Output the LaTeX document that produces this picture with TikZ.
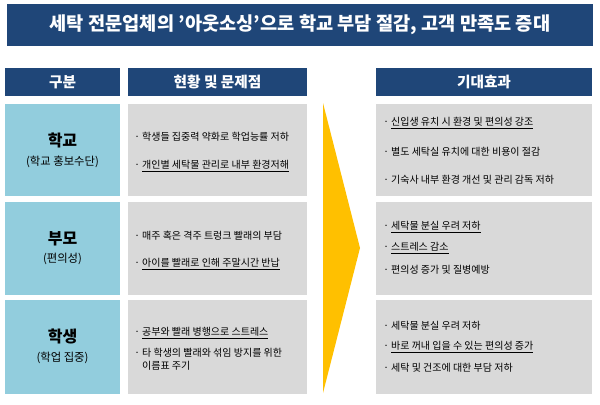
\documentclass[tikz,border=0pt]{standalone}
\usepackage{fontspec}
\setmainfont{Noto Sans CJK KR}
\definecolor{navy}{HTML}{1F4678}
\definecolor{sky}{HTML}{92CDDD}
\definecolor{lgray}{HTML}{D9D9D9}
\definecolor{gold}{HTML}{FFC000}
\tikzset{
 hdr/.style={fill=navy,text=white,font=\bfseries\fontsize{11}{13}\selectfont},
 lab/.style={fill=sky,align=center,font=\fontsize{8.5}{11}\selectfont},
 itm/.style={anchor=west,font=\fontsize{7.5}{10}\selectfont,inner sep=0pt},
}
\begin{document}
\begin{tikzpicture}[x=0.75pt,y=-0.75pt]
\useasboundingbox (0,0) rectangle (600,404);
\fill[white] (0,0) rectangle (600,404);
% title
\fill[navy] (7,4) rectangle (593,46);
\node[text=white,font=\bfseries\fontsize{14}{16}\selectfont] (title) at (300,25) {세탁 전문업체의 \char39아웃소싱\char39으로 학교 부담 절감, 고객 만족도 증대};
% headers
\fill[navy] (5,68) rectangle (120,96); \node[hdr] (h1) at (62.5,82) {구분};
\fill[navy] (128,68) rectangle (307,96); \node[hdr] (h2) at (217.5,82) {현황 및 문제점};
\fill[navy] (376,68) rectangle (592,96); \node[hdr] (h3) at (484,82) {기대효과};
% rows
\foreach \t/\b in {104/196, 202/295, 300/394}{
 \fill[sky] (5,\t) rectangle (120,\b);
 \fill[lgray] (128,\t) rectangle (307,\b);
 \fill[lgray] (376,\t) rectangle (592,\b);
}
% arrow
\fill[gold] (323,103) -- (360,248) -- (323,393) -- cycle;
% labels
\node[lab] (l1) at (62.5,150) {{\bfseries\fontsize{12}{16}\selectfont 학교}\\[3pt](학교 홍보수단)};
\node[lab] (l2) at (62.5,248) {{\bfseries\fontsize{12}{16}\selectfont 부모}\\[3pt](편의성)};
\node[lab] (l3) at (62.5,346) {{\bfseries\fontsize{12}{16}\selectfont 학생}\\[3pt](학업 집중)};
% problems
\node[itm] (p1) at (134,137) {· 학생들 집중력 약화로 학업능률 저하};
\node[itm] (p2) at (134,166) {· \underline{개인별 세탁물 관리로 내부 환경저해}};
\node[itm] (p3) at (134,236) {· 매주 혹은 격주 트렁크 빨래의 부담};
\node[itm] (p4) at (134,264) {· \underline{아이를 빨래로 인해 주말시간 반납}};
\node[itm] (p5) at (134,333) {· \underline{공부와 빨래 병행으로 스트레스}};
\node[itm,align=left] (p6) at (134,359) {· 타 학생의 빨래와 섞임 방지를 위한\\\phantom{· }이름표 주기};
% effects
\node[itm] (e1) at (383,123) {· \underline{신입생 유치 시 환경 및 편의성 강조}};
\node[itm] (e2) at (383,152) {· 별도 세탁실 유치에 대한 비용이 절감};
\node[itm] (e3) at (383,180) {· 기숙사 내부 환경 개선 및 관리 감독 저하};
\node[itm] (e4) at (383,227) {· \underline{세탁물 분실 우려 저하}};
\node[itm] (e5) at (383,248) {· \underline{스트레스 감소}};
\node[itm] (e6) at (383,270) {· 편의성 증가 및 질병예방};
\node[itm] (e7) at (383,326) {· 세탁물 분실 우려 저하};
\node[itm] (e8) at (383,347) {· \underline{바로 꺼내 입을 수 있는 편의성 증가}};
\node[itm] (e9) at (383,368) {· 세탁 및 건조에 대한 부담 저하};
\end{tikzpicture}
\end{document}
